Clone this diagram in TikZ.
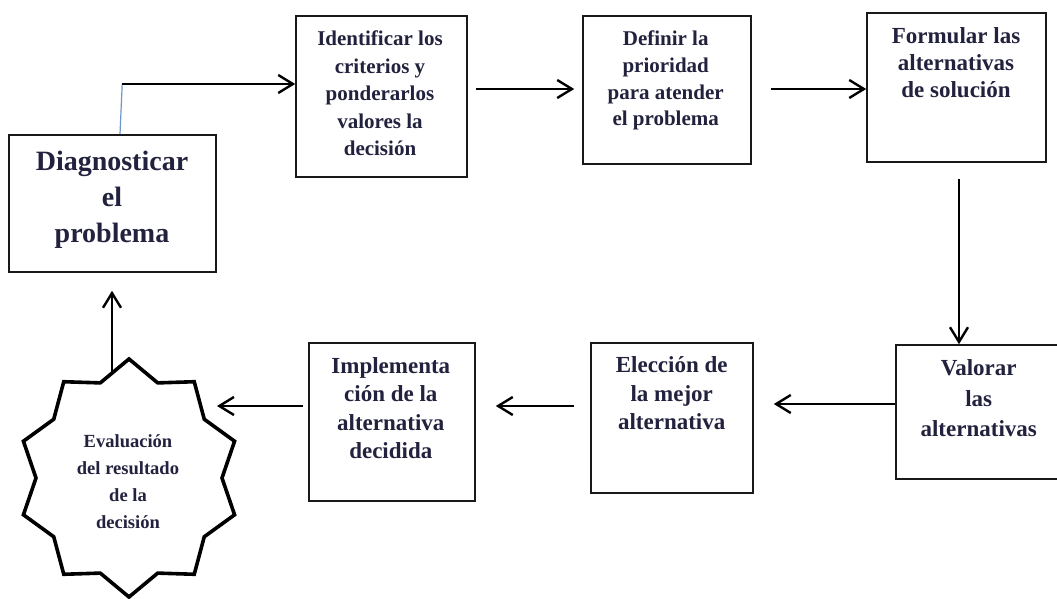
\documentclass[tikz,border=0pt]{standalone}
\usepackage{fontspec}
\setmainfont{Liberation Serif}
\usetikzlibrary{arrows.meta,calc}
\definecolor{txt}{RGB}{34,34,62}
\definecolor{edge}{RGB}{25,25,25}
\definecolor{bluel}{RGB}{110,150,205}
\def\pxu{0.75pt}
\tikzset{
  stepbox/.style={draw=edge, line width=1.2pt, fill=none, inner sep=0pt},
  lbl/.style={align=center, inner sep=0pt, text=txt, anchor=north},
  conn/.style={line width=1.8pt, draw=black, -{Straight Barb[length=11pt,width=13.5pt]}},
  starline/.style={draw=black, line width=2.7pt, line join=miter},
}
\begin{document}
\begin{tikzpicture}[x=0.75pt,y=-0.75pt]
\clip (0,0) rectangle (1057,599);
\fill[white] (0,0) rectangle (1057,599);

% boxes
\node[stepbox, minimum width=207*\pxu, minimum height=137*\pxu] (diag) at (112.5,203.5) {};
\node[stepbox, minimum width=171*\pxu, minimum height=161*\pxu] (ident) at (381.5,96.5) {};
\node[stepbox, minimum width=168*\pxu, minimum height=148*\pxu] (defin) at (667,90) {};
\node[stepbox, minimum width=179*\pxu, minimum height=149*\pxu] (formu) at (956.5,87.5) {};
\node[stepbox, minimum width=169*\pxu, minimum height=134*\pxu] (valor) at (980.5,412) {};
\node[stepbox, minimum width=162*\pxu, minimum height=150*\pxu] (elecc) at (672,418) {};
\node[stepbox, minimum width=166*\pxu, minimum height=158*\pxu] (implem) at (392,422) {};

% star
\coordinate (evalc) at (129,478);
\draw[starline] plot[samples at={0,...,19}, variable=\k]
  ({129+(mod(\k,2)==0 ? 111 : 93)*cos(90+18*\k)},
   {478-(mod(\k,2)==0 ? 119 : 100)*sin(90+18*\k)}) -- cycle;

% texts
\node[lbl, font=\fontsize{21}{27}\selectfont\bfseries] (diagt) at (112,151) {Diagnosticar\\el\\problema};
\node[lbl, font=\fontsize{15.75}{20.6}\selectfont\bfseries] (identt) at (380,30.7) {Identificar los\\criterios y\\ponderarlos\\valores la\\decisión};
\node[lbl, font=\fontsize{15.75}{20}\selectfont\bfseries] (defint) at (665.7,30.7) {Definir la\\prioridad\\para atender\\el problema};
\node[lbl, font=\fontsize{17.25}{20.25}\selectfont\bfseries] (formut) at (956,27.4) {Formular las\\alternativas\\de solución};
\node[lbl, font=\fontsize{17.25}{22.9}\selectfont\bfseries] (valort) at (978.7,359.5) {Valorar\\las\\alternativas};
\node[lbl, font=\fontsize{17.25}{21.4}\selectfont\bfseries] (ellect) at (671.7,356.5) {Elección de\\la mejor\\alternativa};
\node[lbl, font=\fontsize{17.25}{21.2}\selectfont\bfseries] (implemt) at (390.8,357.5) {Implementa\\ción de la\\alternativa\\decidida};
\node[lbl, font=\fontsize{13.9}{20.25}\selectfont\bfseries] (evalt) at (128,434) {Evaluación\\del resultado\\de la\\decisión};

% connectors
\coordinate (c1) at ($(ident.west)+(-173,-12.5)$);
\draw[bluel, line width=0.9pt] ($(diag.north)+(7.5,0)$) -- (c1);
\draw[conn] (c1) -- (c1 -| ident.west);
\draw[conn] ($(ident.east)+(8,-7.5)$) -- ($(defin.west)+(-8,-1)$);
\draw[conn] ($(defin.east)+(19,-1)$) coordinate (a3) -- (a3 -| formu.west);
\draw[conn] ($(formu.south)+(2.5,16)$) coordinate (a4) -- (a4 |- valor.north);
\draw[conn] ($(valor.west)+(0,-8)$) coordinate (a5) -- ($(a5 -| elecc.east)+(20,0)$);
\draw[conn] ($(elecc.west)+(-16,-12)$) coordinate (a6) -- ($(a6 -| implem.east)+(20,0)$);
\draw[conn] ($(implem.west)+(-5,-16)$) -- ($(evalc)+(88,-72)$);
\draw[conn] ($(evalc)+(-17,-106)$) -- ($(diag.south)+(-0.5,18)$);
\end{tikzpicture}
\end{document}
